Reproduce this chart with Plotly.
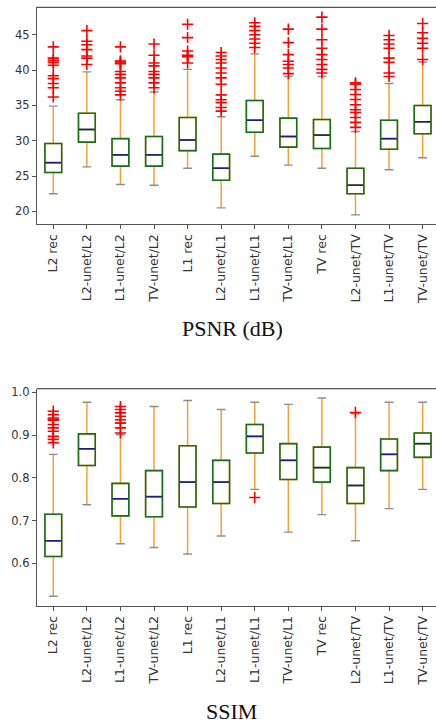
import plotly.graph_objects as go

# Reconstruction methods compared in both panels
methods = ["L2 rec", "L2-unet/L2", "L1-unet/L2", "TV-unet/L2", "L1 rec", "L2-unet/L1",
           "L1-unet/L1", "TV-unet/L1", "TV rec", "L2-unet/TV", "L1-unet/TV", "TV-unet/TV"]
positions = list(range(1, len(methods) + 1))

# PSNR (dB) box statistics per method
psnr_lower = [22.5, 26.3, 23.8, 23.7, 26.1, 20.5, 27.8, 26.55, 26.1, 19.5, 25.9, 27.6]
psnr_q1 = [25.5, 29.8, 26.4, 26.4, 28.6, 24.4, 31.2, 29.1, 28.9, 22.5, 28.8, 31.0]
psnr_median = [26.9, 31.6, 28.0, 28.0, 30.1, 26.1, 32.9, 30.6, 30.8, 23.7, 30.3, 32.7]
psnr_q3 = [29.6, 33.9, 30.3, 30.6, 33.3, 28.1, 35.7, 33.2, 33.0, 26.1, 32.9, 35.0]
psnr_upper = [34.9, 39.75, 35.8, 36.9, 40.1, 33.4, 42.3, 39.1, 39.1, 31.3, 38.1, 41.15]
psnr_outliers = [
    [43.3, 41.7, 41.4, 41.1, 40.7, 39.2, 38.8, 38.1, 37.5, 36.2],
    [45.6, 44.1, 43.6, 42.9, 42.0, 41.7, 40.8],
    [43.3, 41.3, 41.2, 41.0, 40.9, 39.8, 39.4, 38.9, 38.2, 37.5, 37.0, 36.5],
    [43.7, 42.1, 41.0, 40.6, 39.8, 39.4, 38.9, 38.2, 37.5],
    [46.5, 44.6, 42.7, 42.1, 42.0, 41.9, 41.0],
    [42.5, 42.0, 41.5, 41.0, 40.3, 39.6, 38.9, 38.0, 36.5, 35.8, 35.4, 34.7, 34.2],
    [46.7, 46.2, 45.6, 45.0, 44.4, 43.8, 43.2],
    [45.8, 43.9, 42.2, 41.25, 40.8, 40.3, 39.5],
    [47.5, 45.8, 44.3, 43.1, 42.2, 41.5, 40.8, 40.1, 39.6],
    [38.2, 38.0, 37.25, 36.55, 35.85, 35.1, 34.4, 34.0, 33.3, 32.6, 31.9],
    [44.9, 44.3, 43.7, 43.1, 41.7, 41.1, 39.6, 39.1],
    [46.6, 45.3, 44.5, 43.8, 43.1, 41.5],
]

# SSIM box statistics per method
ssim_lower = [0.523, 0.737, 0.646, 0.637, 0.622, 0.664, 0.773, 0.673, 0.714, 0.653, 0.728, 0.773]
ssim_q1 = [0.616, 0.829, 0.711, 0.709, 0.732, 0.740, 0.858, 0.796, 0.790, 0.740, 0.817, 0.848]
ssim_median = [0.653, 0.868, 0.751, 0.756, 0.790, 0.790, 0.897, 0.841, 0.824, 0.782, 0.855, 0.880]
ssim_q3 = [0.715, 0.903, 0.787, 0.817, 0.875, 0.841, 0.925, 0.880, 0.872, 0.824, 0.891, 0.905]
ssim_upper = [0.855, 0.977, 0.901, 0.967, 0.981, 0.960, 0.977, 0.972, 0.987, 0.950, 0.977, 0.977]
ssim_outliers = [
    [0.956, 0.948, 0.940, 0.937, 0.935, 0.925, 0.917, 0.909, 0.897, 0.890, 0.882],
    [],
    [0.967, 0.960, 0.952, 0.944, 0.936, 0.928, 0.917, 0.905],
    [],
    [],
    [],
    [0.754],
    [],
    [],
    [0.953],
    [],
    [],
]

BOX_W = 0.5
CAP_HALF = 0.13
GREEN = "#1b6e1b"
ORANGE = "#f5a034"
NAVY = "#1c1c8e"
CAP_GRAY = "#8c8c8c"
RED = "#ff0000"
SPINE = "#555555"
TICK_TXT = "#333333"


def segments(xs, ys, half):
    """Short horizontal segments centred on xs at heights ys."""
    sx, sy = [], []
    for x, y in zip(xs, ys):
        sx += [x - half, x + half, None]
        sy += [y, y, None]
    return sx, sy


def add_panel(fig, xa, ya, lower, q1, med, q3, upper, outliers):
    # whiskers and box outline in orange
    fig.add_trace(go.Box(
        x=positions, q1=q1, median=med, q3=q3, lowerfence=lower, upperfence=upper,
        width=BOX_W, whiskerwidth=0, boxpoints=False,
        line=dict(color=ORANGE, width=1.5), fillcolor="rgba(0,0,0,0)",
        xaxis=xa, yaxis=ya, showlegend=False, hoverinfo="skip"))
    # box body in green
    fig.add_trace(go.Box(
        x=positions, q1=q1, median=med, q3=q3, lowerfence=q1, upperfence=q3,
        width=BOX_W, whiskerwidth=0, boxpoints=False,
        line=dict(color=GREEN, width=1.6), fillcolor="rgba(0,0,0,0)",
        xaxis=xa, yaxis=ya, showlegend=False))
    # median lines
    mx, my = segments(positions, med, BOX_W / 2 - 0.02)
    fig.add_trace(go.Scatter(x=mx, y=my, mode="lines", line=dict(color=NAVY, width=1.4),
                             xaxis=xa, yaxis=ya, showlegend=False, hoverinfo="skip"))
    # whisker caps
    cx, cy = segments(positions + positions, lower + upper, CAP_HALF)
    fig.add_trace(go.Scatter(x=cx, y=cy, mode="lines", line=dict(color=CAP_GRAY, width=1.4),
                             xaxis=xa, yaxis=ya, showlegend=False, hoverinfo="skip"))
    # outliers
    ox, oy = [], []
    for p, vals in zip(positions, outliers):
        ox += [p] * len(vals)
        oy += vals
    fig.add_trace(go.Scatter(x=ox, y=oy, mode="markers",
                             marker=dict(symbol="cross-thin", size=8,
                                         line=dict(color=RED, width=1.6)),
                             xaxis=xa, yaxis=ya, showlegend=False))


fig = go.Figure()
add_panel(fig, "x", "y", psnr_lower, psnr_q1, psnr_median, psnr_q3, psnr_upper, psnr_outliers)
add_panel(fig, "x2", "y2", ssim_lower, ssim_q1, ssim_median, ssim_q3, ssim_upper, ssim_outliers)

H = 724.0
W = 436.0
x_dom = [37 / W, 1.0]
x_range = [0.515, 12.3 + (436 - 432.7) / 33.58]

xaxis_style = dict(
    range=x_range, domain=x_dom, tickmode="array", tickvals=positions, ticktext=methods,
    tickangle=-90, ticks="outside", ticklen=4, tickcolor=SPINE, showgrid=False,
    showline=True, linecolor=SPINE, linewidth=1.3, mirror=False, zeroline=False,
    tickfont=dict(family="DejaVu Sans", size=12.5, color=TICK_TXT))
yaxis_style = dict(
    ticks="outside", ticklen=4, tickcolor=SPINE, showgrid=False, showline=True,
    linecolor=SPINE, linewidth=1.3, zeroline=False,
    tickfont=dict(family="DejaVu Sans", size=11.5, color=TICK_TXT))

fig.update_layout(
    width=436, height=724,
    margin=dict(l=0, r=0, t=0, b=0),
    paper_bgcolor="white", plot_bgcolor="white",
    boxmode="overlay",
    xaxis=dict(xaxis_style, anchor="y"),
    yaxis=dict(yaxis_style, anchor="x", domain=[1 - 222 / H, 1 - 4.3 / H],
               range=[18.2, 48.9], tickvals=[20, 25, 30, 35, 40, 45]),
    xaxis2=dict(xaxis_style, anchor="y2"),
    yaxis2=dict(yaxis_style, anchor="x2", domain=[1 - 605.3 / H, 1 - 387.3 / H],
                range=[0.5007, 1.0086], tickvals=[0.6, 0.7, 0.8, 0.9, 1.0],
                ticktext=["0.6", "0.7", "0.8", "0.9", "1.0"]),
    shapes=[
        # top spines of both panels
        dict(type="line", xref="paper", yref="paper", x0=x_dom[0], x1=1,
             y0=1 - 4.3 / H, y1=1 - 4.3 / H, line=dict(color=SPINE, width=1.3)),
        dict(type="line", xref="paper", yref="paper", x0=x_dom[0], x1=1,
             y0=1 - 387.3 / H, y1=1 - 387.3 / H, line=dict(color=SPINE, width=1.3)),
    ],
    annotations=[
        dict(text="PSNR (dB)", xref="paper", yref="paper", x=232.5 / W, y=1 - 326.7 / H,
             xanchor="center", yanchor="middle", showarrow=False,
             font=dict(family="Liberation Serif", size=22, color="#111111")),
        dict(text="SSIM", xref="paper", yref="paper", x=231 / W, y=1 - 711.7 / H,
             xanchor="center", yanchor="middle", showarrow=False,
             font=dict(family="Liberation Serif", size=22, color="#111111")),
    ],
)

fig.write_html("out.html")
